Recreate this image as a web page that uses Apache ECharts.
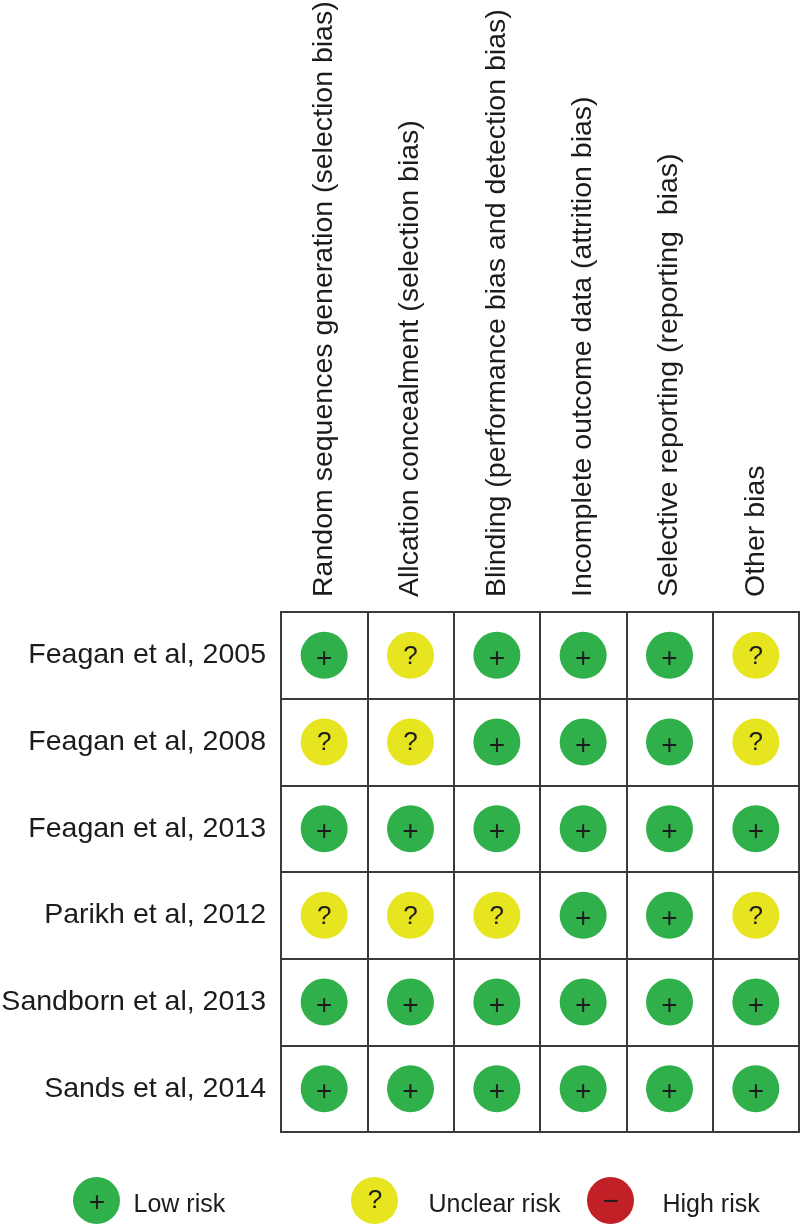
<!DOCTYPE html>
<html>
<head>
<meta charset="utf-8">
<style>html,body{margin:0;padding:0;background:#fff}#c{width:800px;height:1224px}</style>
<script src="https://cdn.jsdelivr.net/npm/echarts@6/dist/echarts.min.js"></script>
</head>
<body>
<div id="c"></div>
<script>
const domains = [
  "Random sequences generation (selection bias)",
  "Allcation concealment (selection bias)",
  "Blinding (performance bias and detection bias)",
  "Incomplete outcome data (attrition bias)",
  "Selective reporting (reporting  bias)",
  "Other bias"
];
const studies = [
  "Feagan et al, 2005",
  "Feagan et al, 2008",
  "Feagan et al, 2013",
  "Parikh et al, 2012",
  "Sandborn et al, 2013",
  "Sands et al, 2014"
];
const feagan2005 = ["+", "?", "+", "+", "+", "?"];
const feagan2008 = ["?", "?", "+", "+", "+", "?"];
const feagan2013 = ["+", "+", "+", "+", "+", "+"];
const parikh2012 = ["?", "?", "?", "+", "+", "?"];
const sandborn2013 = ["+", "+", "+", "+", "+", "+"];
const sands2014 = ["+", "+", "+", "+", "+", "+"];
const judgements = [feagan2005, feagan2008, feagan2013, parikh2012, sandborn2013, sands2014];
const riskNames = ["Low risk", "Unclear risk", "High risk"];
const riskGlyphs = ["+", "?", "\u2212"];
const riskColors = ["#2fb04a", "#e6e51f", "#c02026"];

const ink = "#1d1b1c", line = "#3a3a3a", font = "'Liberation Sans', Arial, sans-serif";
const chart = echarts.init(document.getElementById("c"), null, {renderer: "canvas"});

const series = riskNames.map((name, k) => ({
  name, type: "scatter", symbol: "circle", symbolSize: 47,
  itemStyle: {color: riskColors[k], opacity: 1},
  label: {
    show: true, position: "inside", formatter: riskGlyphs[k],
    color: ink, fontFamily: font, fontSize: k === 1 ? 26 : 28,
    offset: [0, k === 1 ? 1 : 4]
  },
  data: judgements.flatMap((row, r) => row.flatMap((g, c) =>
    g === riskGlyphs[k] ? [[domains[c], studies[r]]] : []))
}));

const legendX = [73, 351, 587];
const legendGap = [8, 25, 23];
const legendGlyphY = [1203, 1201, 1202];
chart.setOption({
  animation: false,
  backgroundColor: "#fff",
  grid: {left: 281, right: 1, top: 612, bottom: 92, show: true, borderColor: line, borderWidth: 2, containLabel: false, outerBoundsMode: "none"},
  xAxis: {
    type: "category", position: "top", data: domains,
    axisLine: {show: true, lineStyle: {color: line, width: 2}}, axisTick: {show: false},
    axisLabel: {rotate: -90, interval: 0, margin: 15, color: ink, fontFamily: font, fontSize: 28.5},
    splitLine: {show: true, interval: 0, lineStyle: {color: line, width: 2}}
  },
  yAxis: {
    type: "category", inverse: true, data: studies,
    axisLine: {show: true, lineStyle: {color: line, width: 2}}, axisTick: {show: false},
    axisLabel: {interval: 0, margin: 15, color: ink, fontFamily: font, fontSize: 28.5},
    splitLine: {show: true, interval: 0, lineStyle: {color: line, width: 2}}
  },
  legend: riskNames.map((name, k) => ({
    data: [{name, icon: "circle"}], selectedMode: false, orient: "horizontal", padding: 0,
    left: legendX[k], top: 1177, itemWidth: 48, itemHeight: 47,
    formatter: "{a|{name}}",
    textStyle: {
      color: ink, fontFamily: font, fontSize: 25,
      rich: {a: {color: ink, fontFamily: font, fontSize: 25, padding: [10, 0, 0, legendGap[k]]}}
    }
  })),
  graphic: riskNames.map((name, k) => ({
    type: "text", z: 100, x: legendX[k] + 24, y: legendGlyphY[k],
    style: {text: riskGlyphs[k], fill: ink, align: "center", verticalAlign: "middle", font: (k === 1 ? 26 : 28) + "px " + font}
  })),
  series
});
</script>
</body>
</html>
